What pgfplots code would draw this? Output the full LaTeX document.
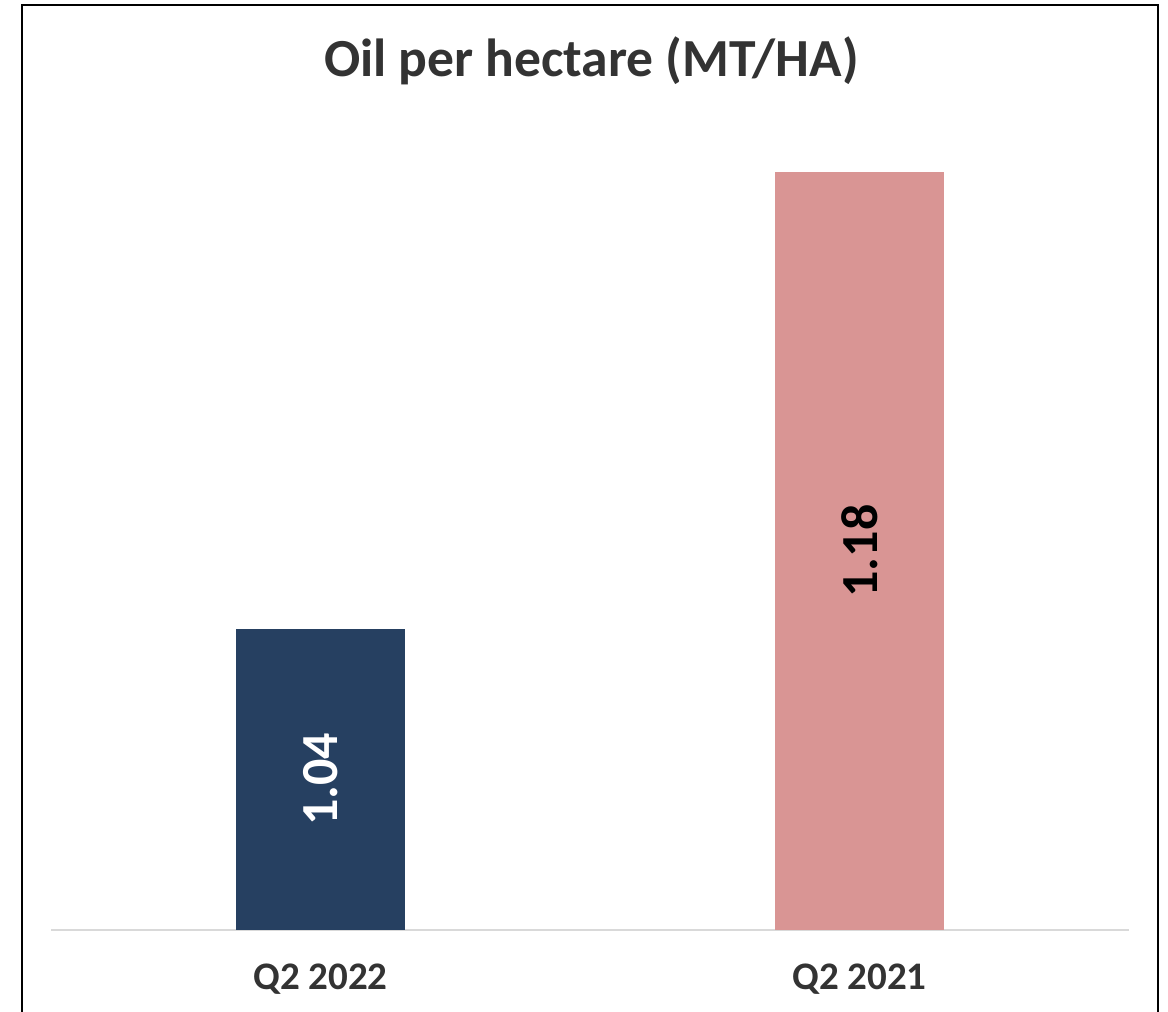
\documentclass[border=0pt]{standalone}
\usepackage{pgfplots}
\pgfplotsset{compat=1.18}
\usepackage{fontspec}
\setmainfont{Carlito}
\definecolor{navy}{HTML}{264061}
\definecolor{pinkbar}{HTML}{D99594}
\definecolor{txt}{HTML}{333333}
\definecolor{axisgray}{HTML}{D9D9D9}
\begin{document}
\begin{tikzpicture}
\path[use as bounding box] (0,0) rectangle (584pt,506pt);
\draw[black, line width=1pt] (11pt,-3pt) -- (11pt,503.5pt) -- (579pt,503.5pt) -- (579pt,-3pt);
\begin{axis}[
  at={(25.5pt,41pt)}, anchor=south west,
  scale only axis, width=539pt, height=411.6pt,
  xmin=-0.5, xmax=1.5, ymin=0.9478, ymax=1.2,
  axis x line*=bottom, axis y line=none,
  x axis line style={draw=axisgray, line width=1.2pt, -},
  xtick={0,1}, xticklabels={\textbf{Q2 2022},\textbf{Q2 2021}},
  major tick length=0pt,
  xticklabel style={font=\fontsize{19.5}{22}\selectfont\bfseries, text=txt, yshift=-13.5pt},
  ybar, bar width=84.5pt,
  clip=false,
]
\addplot[fill=navy, draw=none, bar shift=0pt] coordinates {(0,1.04)};
\addplot[fill=pinkbar, draw=none, bar shift=0pt] coordinates {(1,1.18)};
\node[rotate=90, text=white, font=\fontsize{26}{30}\selectfont\bfseries] at (axis cs:0,0.9939) {1.04};
\node[rotate=90, text=black, font=\fontsize{26}{30}\selectfont\bfseries] at (axis cs:1,1.0639) {1.18};
\end{axis}
\node[text=txt, font=\fontsize{26.8}{32}\selectfont\bfseries, anchor=base] at (295.75pt,467.5pt) {Oil per hectare (MT/HA)};
\end{tikzpicture}
\end{document}
